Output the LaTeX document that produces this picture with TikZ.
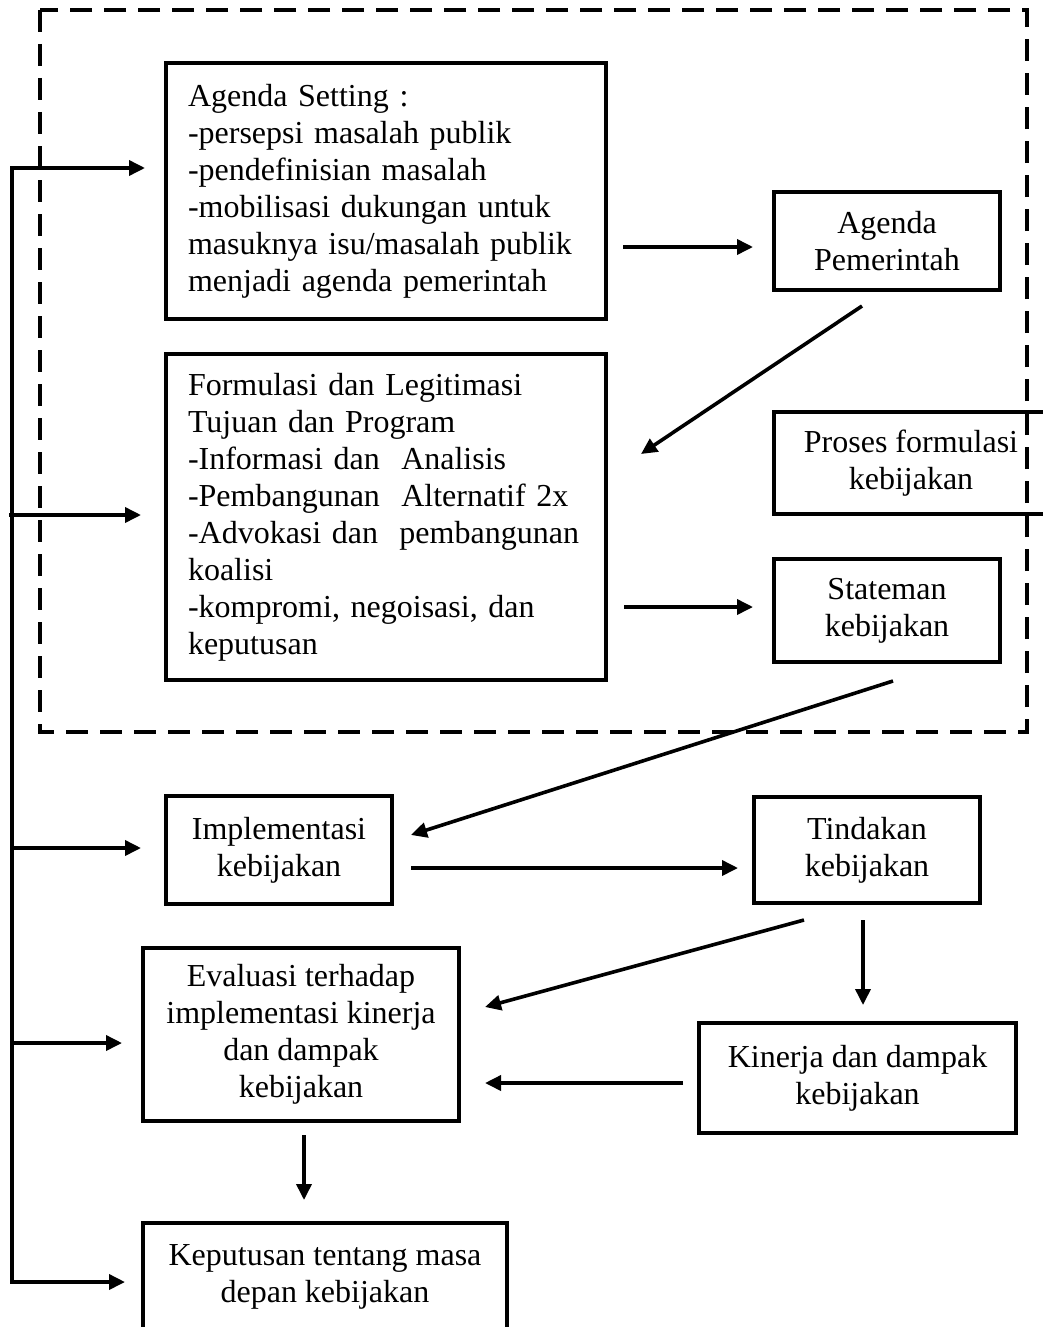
\documentclass[tikz,border=0pt]{standalone}
\usepackage{fontspec}
\setmainfont{Liberation Serif}
\usetikzlibrary{arrows.meta,calc}

\tikzset{
  box/.style={draw, line width=4pt, inner sep=0pt, align=center,
    font=\fontsize{32}{37}\selectfont},
  listbox/.style={box, align=left, text width=396pt, inner xsep=22pt,
    minimum width=440pt},
  conn/.style={line width=3.6pt, -{Triangle[length=16pt,width=15pt]}},
  wire/.style={line width=3.6pt, line cap=rect},
  frame/.style={line width=3.6pt, dash pattern=on 22pt off 12pt},
}

\begin{document}
\begin{tikzpicture}[x=1pt,y=-1pt]
\useasboundingbox (0,0) rectangle (1043,1327);
\clip (0,0) rectangle (1043,1327);

% process blocks
\node[listbox, minimum height=256pt] (setting) at (386,191)
  {Agenda Setting :\\-persepsi masalah publik\\-pendefinisian masalah\\-mobilisasi dukungan untuk\\masuknya isu/masalah publik\\menjadi agenda pemerintah};
\node[box, minimum width=226pt, minimum height=98pt] (pemerintah) at (887,241)
  {Agenda\\Pemerintah};
\node[listbox, minimum height=326pt] (formulasi) at (386,517)
  {Formulasi dan Legitimasi\\Tujuan dan Program\\-Informasi dan~ Analisis\\-Pembangunan~ Alternatif 2x\\-Advokasi dan~ pembangunan\\koalisi\\-kompromi, negoisasi, dan\\keputusan};
\node[box, minimum width=274pt, minimum height=102pt] (proses) at (911,463)
  {Proses formulasi\\kebijakan};
\node[box, minimum width=226pt, minimum height=103pt] (stateman) at (887,610.5)
  {Stateman\\kebijakan};
\node[box, minimum width=226pt, minimum height=108pt] (impl) at (279,850)
  {Implementasi\\kebijakan};
\node[box, minimum width=226pt, minimum height=106pt] (tindakan) at (867,850)
  {Tindakan\\kebijakan};
\node[box, minimum width=316pt, minimum height=173pt] (evaluasi) at (301,1034.5)
  {Evaluasi terhadap\\implementasi kinerja\\dan dampak\\kebijakan};
\node[box, minimum width=317pt, minimum height=110pt] (kinerja) at (857.5,1078)
  {Kinerja dan dampak\\kebijakan};
\node[box, minimum width=364pt, minimum height=107pt] (keputusan) at (325,1276.5)
  {Keputusan tentang masa\\depan kebijakan};

% dashed frame round the formulation stage
\draw[frame] (40,10) rectangle (1027,732);

% feedback spine on the left
\coordinate (s1) at (12,168);
\coordinate (s2) at (12,515);
\coordinate (s3) at (12,848);
\coordinate (s4) at (12,1043);
\coordinate (s5) at (12,1282);
\draw[wire] (s1) -- (s5);
\draw[conn, shorten >=19pt] (s1) -- (s1 -| setting.west);
\draw[conn, shorten >=23pt] ($(s2)+(-3,0)$) -- (s2 -| formulasi.west);
\draw[conn, shorten >=23pt] (s3) -- (s3 -| impl.west);
\draw[conn, shorten >=19pt] (s4) -- (s4 -| evaluasi.west);
\draw[conn, shorten >=16pt] (s5) -- (s5 -| keputusan.west);

% main flow
\draw[conn] ($(setting.east)+(15,56)$) -- ($(pemerintah.west)+(-19,6)$);
\draw[conn] ($(pemerintah.south)+(-25,14)$) -- ($(formulasi.east)+(33,-63)$);
\draw[conn] ($(formulasi.east)+(16,90)$) -- ($(stateman.west)+(-19,-3.5)$);
\draw[conn] ($(stateman.south)+(6,17)$) -- ($(impl.east)+(17,-15)$);
\draw[conn] ($(impl.east)+(17,18)$) -- ($(tindakan.west)+(-14,18)$);
\draw[conn] ($(tindakan.south)+(-63,15)$) -- ($(evaluasi.east)+(24,-27.5)$);
\draw[conn] ($(tindakan.south)+(-4,15)$) -- ($(kinerja.north)+(5.5,-16)$);
\draw[conn] ($(kinerja.west)+(-14,5)$) -- ($(evaluasi.east)+(24,48.5)$);
\draw[conn] ($(evaluasi.south)+(3,12)$) -- ($(keputusan.north)+(-21,-21)$);
\end{tikzpicture}
\end{document}
